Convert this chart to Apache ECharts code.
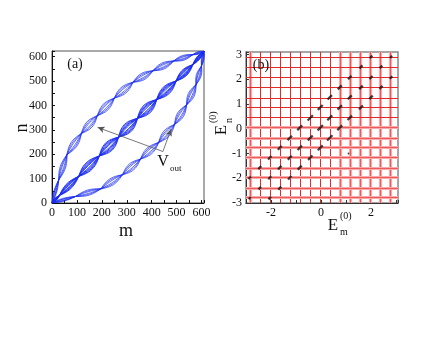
<!DOCTYPE html>
<html><head><meta charset="utf-8">
<script src="https://cdn.jsdelivr.net/npm/echarts@6/dist/echarts.min.js"></script>
<style>html,body{margin:0;padding:0;background:#fff}#c{width:440px;height:340px}</style>
</head><body><div id="c"></div>
<script>
// ---------- Panel (a): lens chains, n vs m ----------
const diagNodes  = [[0,0],[30,31],[107,109],[190,193],[267,270],[343,347],[420,424],[498,500],[565,567],[610,622]];
const diagWidths = [5,13,18,20,20,20,18,14,7];
const upperNodes  = [[0,0],[27,95],[60,198],[118,285],[182,358],[250,430],[325,495],[405,542],[488,582],[565,608],[610,622]];
const upperWidths = [6,11,14,15,15,15,14,13,10,5];
const lowerNodes  = [[0,0],[95,27],[196,58],[283,116],[355,180],[428,248],[492,322],[540,402],[578,485],[600,562],[610,622]];
const lowerWidths = [6,11,14,15,15,15,14,13,10,5];
const arrowFrom = [445,211];
const arrowTo   = [[183,310],[478,303]];

// ---------- Panel (b): E_n vs E_m ----------
const levelsX = [-2.82,-2.42,-2.02,-1.62,-1.22,-0.82,-0.42,-0.02,0.38,0.78,1.18,1.58,1.98,2.38,2.78];
const levelsY = [-2.78,-2.39,-1.97,-1.58,-1.17,-0.76,-0.38,0.04,0.45,0.85,1.25,1.67,2.06,2.49,2.87];
const pointsMain  = [[-2.85,-2.8],[-2.45,-2.4],[-2.05,-1.98],[-1.65,-1.57],[-1.25,-1.17],[-0.85,-0.77],[-0.43,-0.37],[-0.03,0.04],[0.35,0.44],[0.75,0.86],[1.15,1.27],[1.6,1.67],[2.0,2.07],[2.4,2.5],[2.8,2.9]];
const pointsUpper = [[-2.85,-1.98],[-2.45,-1.57],[-2.05,-1.17],[-1.65,-0.77],[-1.25,-0.37],[-0.85,0.04],[-0.43,0.44],[-0.03,0.86],[0.35,1.27],[0.75,1.67],[1.15,2.07],[1.6,2.5],[2.0,2.9]];
const pointsLower = [[-2.05,-2.8],[-1.65,-2.4],[-1.25,-1.98],[-0.85,-1.57],[-0.43,-1.17],[-0.03,-0.77],[0.35,-0.37],[0.75,0.04],[1.15,0.44],[1.6,0.86],[2.0,1.27],[2.4,1.67],[2.8,2.07]];
const pointsStray = [[1.1,-1.0]];

const SERIF = 'Liberation Serif';
const BLUE = '#1a2cf0';

// lens outline between two read-off nodes, bulging by the read-off half width
function lensSeries(nodes, widths, fracs, lw) {
  const out = [];
  const steps = 12;
  for (let k = 0; k < nodes.length - 1; k++) {
    const [x1,y1] = nodes[k], [x2,y2] = nodes[k+1];
    const dx = x2-x1, dy = y2-y1, L = Math.hypot(dx,dy);
    const px = -dy/L, py = dx/L;
    fracs.forEach(f => {
      const pts = [];
      for (let s = 0; s <= steps; s++) {
        const t = s/steps, b = f*widths[k]*Math.sin(Math.PI*t);
        pts.push([x1+dx*t+b*px, y1+dy*t+b*py]);
      }
      out.push({type:'line', xAxisIndex:0, yAxisIndex:0, symbol:'none',
        silent:true, animation:false, z:2,
        lineStyle:{color:BLUE, width:lw}, data:pts});
    });
  }
  return out;
}

const series = [];
series.push(...lensSeries(diagNodes, diagWidths, [-1,-0.8,-0.6,-0.4,-0.2,0.2,0.4,0.6,0.8,1], 0.9));
series.push(...lensSeries(upperNodes, upperWidths, [-1,-0.65,-0.3,0.3,0.65,1], 0.7));
series.push(...lensSeries(lowerNodes, lowerWidths, [-1,-0.65,-0.3,0.3,0.65,1], 0.7));

// arrows
series.push({type:'scatter', xAxisIndex:0, yAxisIndex:0, data:[arrowFrom], symbolSize:0, silent:true, z:5,
  markLine:{silent:true, z:6, symbol:['none','arrow'], symbolSize:[5,7], animation:false,
    label:{show:false},
    lineStyle:{color:'#555', width:0.8, type:'solid'},
    data: arrowTo.map(t => [{coord:arrowFrom},{coord:t}])}});

// panel b grid lines
const gridLineData = [];
levelsX.forEach((v,i) => {
  const light = (i === 0 || v >= 0.7);
  if (light) gridLineData.push({xAxis:v, lineStyle:{color:'#f8aaaa', width:3.2, type:'solid'}});
  gridLineData.push({xAxis:v, lineStyle:{color: light ? '#ee5a5a' : '#e32a2a', width:1, type:'solid'}});
});
levelsY.forEach(v => {
  const light = v <= 0.1;
  if (light) gridLineData.push({yAxis:v, lineStyle:{color:'#f8aaaa', width:3.2, type:'solid'}});
  gridLineData.push({yAxis:v, lineStyle:{color: light ? '#ee5a5a' : '#e32a2a', width:1, type:'solid'}});
});
series.push({type:'scatter', xAxisIndex:1, yAxisIndex:1, data:[[0,0]], symbolSize:0, silent:true, z:1,
  markLine:{silent:true, z:1, symbol:'none', animation:false, label:{show:false}, data:gridLineData}});

const markSize = v => { const s = Math.max(2.4, 7.5 - 0.8*Math.abs(v[0]+v[1])); return [s, 2.3]; };
[pointsMain, pointsUpper, pointsLower].forEach(pts => {
  series.push({type:'scatter', xAxisIndex:1, yAxisIndex:1, data:pts, symbol:'rect',
    symbolSize:markSize, symbolRotate:45, itemStyle:{color:'#111'}, silent:true, z:8, animation:false});
});
series.push({type:'scatter', xAxisIndex:1, yAxisIndex:1, data:pointsStray, symbol:'circle',
  symbolSize:1.8, itemStyle:{color:'#111'}, silent:true, z:8, animation:false});

const tickLabel = {fontFamily:SERIF, fontSize:12, color:'#111'};

const option = {
  backgroundColor:'#fff',
  animation:false,
  grid:[
    {left:52, top:51, width:152, height:152, show:true, borderColor:'#555', borderWidth:1, backgroundColor:'transparent'},
    {left:246, top:52, width:152, height:151, show:true, borderColor:'#888', borderWidth:1.5, backgroundColor:'transparent'}
  ],
  xAxis:[
    {gridIndex:0, type:'value', min:0, max:610, interval:50,
      axisLine:{onZero:false, lineStyle:{color:'#111', width:1}},
      axisTick:{inside:true, length:3, lineStyle:{color:'#111'}},
      splitLine:{show:false},
      axisLabel:Object.assign({margin:4, formatter:v => (v % 100 === 0 ? String(v) : '')}, tickLabel)},
    {gridIndex:1, type:'value', min:-3, max:3.08, interval:1,
      axisLine:{onZero:false, lineStyle:{color:'#333', width:1}},
      axisTick:{inside:true, length:3, lineStyle:{color:'#333'}},
      splitLine:{show:false},
      axisLabel:Object.assign({margin:4, formatter:v => (Number.isInteger(v) && v % 2 === 0 ? String(v) : '')}, tickLabel)}
  ],
  yAxis:[
    {gridIndex:0, type:'value', min:0, max:623, interval:50,
      axisLine:{onZero:false, lineStyle:{color:'#111', width:1}},
      axisTick:{inside:true, length:3, lineStyle:{color:'#111'}},
      splitLine:{show:false},
      axisLabel:Object.assign({margin:5, formatter:v => (v % 100 === 0 ? String(v) : '')}, tickLabel)},
    {gridIndex:1, type:'value', min:-3, max:3.1, interval:1,
      axisLine:{onZero:false, lineStyle:{color:'#333', width:1}},
      axisTick:{inside:true, length:3, lineStyle:{color:'#333'}},
      splitLine:{show:false},
      axisLabel:Object.assign({margin:4, formatter:v => (Number.isInteger(v) ? String(v) : '')}, tickLabel)}
  ],
  graphic:[
    {type:'text', x:75, y:64, z:10, style:{text:'(a)', font:'14px "Liberation Serif"', fill:'#111', align:'center', verticalAlign:'middle'}},
    {type:'text', x:261, y:65, z:10, style:{text:'(b)', font:'14px "Liberation Serif"', fill:'#111', align:'center', verticalAlign:'middle'}},
    {type:'text', x:163, y:162, z:10, style:{text:'V', font:'16px "Liberation Serif"', fill:'#111', align:'center', verticalAlign:'middle'}},
    {type:'text', x:170, y:169, z:10, style:{text:'out', font:'9px "Liberation Serif"', fill:'#111', align:'left', verticalAlign:'middle'}},
    {type:'text', x:126, y:231, z:10, style:{text:'m', font:'18px "Liberation Serif"', fill:'#111', align:'center', verticalAlign:'middle'}},
    {type:'text', x:22, y:128, rotation:Math.PI/2, z:10, style:{text:'n', font:'18px "Liberation Serif"', fill:'#111', align:'center', verticalAlign:'middle'}},
    {type:'text', x:333, y:226, z:10, style:{text:'E', font:'17px "Liberation Serif"', fill:'#111', align:'center', verticalAlign:'middle'}},
    {type:'text', x:340, y:216, z:10, style:{text:'(0)', font:'10px "Liberation Serif"', fill:'#111', align:'left', verticalAlign:'middle'}},
    {type:'text', x:340, y:232, z:10, style:{text:'m', font:'10px "Liberation Serif"', fill:'#111', align:'left', verticalAlign:'middle'}},
    {type:'group', x:222, y:130, rotation:Math.PI/2, z:10, children:[
      {type:'text', x:0, y:0, style:{text:'E', font:'17px "Liberation Serif"', fill:'#111', align:'center', verticalAlign:'middle'}},
      {type:'text', x:7, y:-9, style:{text:'(0)', font:'10px "Liberation Serif"', fill:'#111', align:'left', verticalAlign:'middle'}},
      {type:'text', x:7, y:7, style:{text:'n', font:'10px "Liberation Serif"', fill:'#111', align:'left', verticalAlign:'middle'}}
    ]}
  ],
  series: series
};
const chart = echarts.init(document.getElementById('c'), null, {renderer:'canvas'});
chart.setOption(option);
</script>
</body></html>
